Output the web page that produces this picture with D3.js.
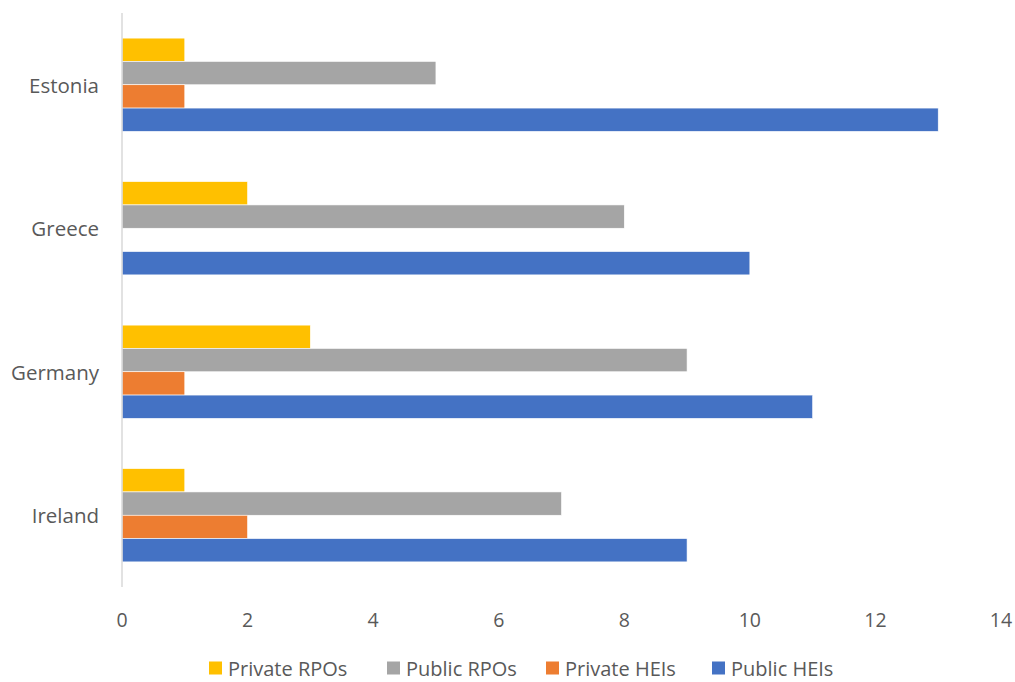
<!DOCTYPE html>
<html>
<head>
<meta charset="utf-8">
<script src="https://cdn.jsdelivr.net/npm/d3@7"></script>
<style>
  body { margin: 0; background: #fff; }
  text { font-family: "Open Sans", "Noto Sans", sans-serif; fill: #595959; }
</style>
</head>
<body>
<div id="chart"></div>
<script>
// data
var countries = ["Estonia", "Greece", "Germany", "Ireland"];
var seriesNames = ["Private RPOs", "Public RPOs", "Private HEIs", "Public HEIs"];
var seriesColors = ["#ffc000", "#a5a5a5", "#ed7d31", "#4472c4"];
var privateRPOs = [1, 2, 3, 1];
var publicRPOs = [5, 8, 9, 7];
var privateHEIs = [1, 0, 1, 2];
var publicHEIs = [13, 10, 11, 9];
var xTicks = [0, 2, 4, 6, 8, 10, 12, 14];

var allSeries = [privateRPOs, publicRPOs, privateHEIs, publicHEIs];

//Width and height
var w = 1015;
var h = 682;

var svg = d3.select("#chart")
  .append("svg")
  .attr("width", w)
  .attr("height", h);

var x = d3.scaleLinear().domain([0, 14]).range([122, 1001]);

var y = d3.scaleBand()
  .domain(countries)
  .range([13, 587])
  .paddingInner(0.35)
  .paddingOuter(0.175);

var yInner = d3.scaleBand()
  .domain(seriesNames)
  .range([0, y.bandwidth()]);

// bars
var groups = svg.selectAll("g.country")
  .data(countries)
  .enter()
  .append("g")
  .attr("class", "country")
  .attr("transform", function(d) { return "translate(0," + y(d) + ")"; });

groups.selectAll("rect")
  .data(function(d, i) {
    return seriesNames.map(function(s, j) {
      return { series: s, value: allSeries[j][i], color: seriesColors[j] };
    });
  })
  .enter()
  .append("rect")
  .attr("x", x(0))
  .attr("y", function(d) { return yInner(d.series); })
  .attr("width", function(d) { return x(d.value) - x(0); })
  .attr("height", yInner.bandwidth())
  .attr("fill", function(d) { return d.color; })
  .attr("stroke", "#fff")
  .attr("stroke-width", 0.6);

// vertical axis line
svg.append("line")
  .attr("x1", x(0)).attr("x2", x(0))
  .attr("y1", 13).attr("y2", 587)
  .attr("stroke", "#d9d9d9")
  .attr("stroke-width", 1.5);

// category labels
svg.selectAll("text.cat")
  .data(countries)
  .enter()
  .append("text")
  .attr("class", "cat")
  .attr("x", 99)
  .attr("y", function(d) { return y(d) + y.bandwidth() / 2; })
  .attr("text-anchor", "end")
  .attr("dominant-baseline", "central")
  .attr("font-size", 20.5)
  .text(function(d) { return d; });

// x tick labels
svg.selectAll("text.tick")
  .data(xTicks)
  .enter()
  .append("text")
  .attr("class", "tick")
  .attr("x", function(d) { return x(d); })
  .attr("y", 619)
  .attr("text-anchor", "middle")
  .attr("dominant-baseline", "central")
  .attr("font-size", 19.5)
  .text(function(d) { return d; });

// legend
var legendX = [209, 387, 546, 712];
var legend = svg.selectAll("g.legend")
  .data(seriesNames)
  .enter()
  .append("g")
  .attr("class", "legend")
  .attr("transform", function(d, i) { return "translate(" + legendX[i] + ",668)"; });

legend.append("rect")
  .attr("x", 0).attr("y", -6.5)
  .attr("width", 13).attr("height", 13)
  .attr("fill", function(d, i) { return seriesColors[i]; });

legend.append("text")
  .attr("x", 19)
  .attr("y", 0)
  .attr("dominant-baseline", "central")
  .attr("font-size", 20)
  .text(function(d) { return d; });
</script>
</body>
</html>
